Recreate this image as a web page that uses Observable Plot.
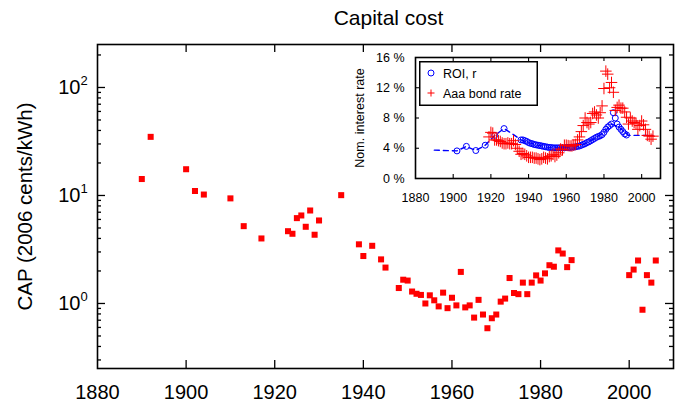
<!DOCTYPE html>
<html>
<head>
<meta charset="utf-8">
<script src="https://cdn.jsdelivr.net/npm/d3@7"></script>
<script src="https://cdn.jsdelivr.net/npm/@observablehq/plot@0.6"></script>
<style>
  html, body { margin: 0; padding: 0; background: #fff; }
  #wrap { position: relative; width: 681px; height: 409px; overflow: hidden; background: #fff; }
  #main, #inset, #legend { position: absolute; }
  #main { left: 0; top: 0; }
  #inset { left: 330px; top: 48px; }
  #legend { left: 419px; top: 61px; }
</style>
</head>
<body>
<div id="wrap">
  <div id="main"></div>
  <div id="inset"></div>
  <svg id="legend" width="119" height="45" style="font-family:'Liberation Sans', Arial, sans-serif">
    <rect x="0.75" y="0.75" width="117.5" height="43.5" fill="#fff" stroke="#000" stroke-width="1.5"></rect>
    <circle cx="12" cy="12" r="3" fill="none" stroke="#0000ff" stroke-width="1"></circle>
    <text x="24" y="16.5" font-size="12.5" fill="#000">ROI, r</text>
    <path d="M8.5,32H15.5M12,28.5V35.5" stroke="#ff0000" stroke-width="1"></path>
    <text x="24" y="36.5" font-size="12.5" fill="#000">Aaa bond rate</text>
  </svg>
</div>
<script>
const FONT = "'Liberation Sans', Arial, Helvetica, sans-serif";

// ---------- main chart data: capital cost (2006 cents/kWh) ----------
const capYears = [1890,1892,1900,1902,1904,1910,1913,1917,
  1923,1924,1925,1926,1927,1928,1929,1930,1935,
  1939,1940,1942,1944,1945,
  1948,1949,1950,1951,1952,1953,1954,1955,1956,1957,
  1958,1959,1960,1961,1962,1963,1964,1965,1966,1967,
  1968,1969,1970,1971,1972,1973,1974,1975,1976,1977,
  1978,1979,1980,1981,1982,1983,1984,1985,1986,1987,
  2000,2001,2002,2003,2004,2005,2006];
const capValues = [14.2,34.9,17.5,11.0,10.2,9.4,5.2,4.0,
  4.67,4.42,6.17,6.53,5.13,7.26,4.33,5.87,10.07,
  3.53,2.75,3.42,2.56,2.15,
  1.39,1.66,1.63,1.29,1.23,1.20,1.00,1.19,1.07,0.94,
  1.26,0.905,1.13,0.96,1.96,0.92,0.96,0.74,1.08,0.79,
  0.59,0.73,0.79,1.04,1.11,1.72,1.25,1.22,1.56,1.22,
  1.56,1.82,1.63,1.90,2.26,2.19,3.10,2.90,2.17,2.52,
  1.83,2.06,2.50,0.875,1.83,1.56,2.50];

const mainXTickLabels = [1880,1900,1920,1940,1960,1980,2000];
const mainXTicks = [1900,1920,1940,1960,1980,2000];
const mainYMajor = [1,10,100];
const mainYExponents = ["0","1","2"];
const mainYMinor = [0.3,0.4,0.5,0.6,0.7,0.8,0.9,2,3,4,5,6,7,8,9,20,30,40,50,60,70,80,90,200];

// ---------- inset data: nominal interest rates (%) ----------
const roiYears = [1902,1907,1912,1917,1922,1927,
  1936,1937,1938,1939,1940,1941,1942,1943,1944,1945,1946,1947,1948,1949,
  1950,1951,1952,1953,1954,1955,1956,1957,1958,1959,
  1960,1961,1962,1963,1964,1965,1966,1967,1968,1969,
  1970,1971,1972,1973,1974,1975,1976,1977,1978,1979,
  1980,1981,1982,1983,1984,1985,1986,1987,1988,1989,1990,1991,1992];
const roiValues = [3.65,4.25,3.7,4.4,5.7,6.6,
  5.1,5.1,5.0,4.9,4.75,4.65,4.6,4.5,4.45,4.4,4.35,4.3,4.25,4.2,
  4.15,4.1,4.1,4.05,4.05,4.05,4.05,4.05,4.05,4.05,
  4.1,4.1,4.1,4.15,4.15,4.2,4.25,4.3,4.4,4.5,
  4.6,4.75,4.85,5.0,5.15,5.3,5.45,5.55,5.65,5.8,
  6.1,6.5,6.8,7.0,7.2,8.7,8.0,7.2,6.8,6.5,6.2,5.9,5.75];

const rLineYears = [1890,1902,1907,1912,1917,1922,1927,1932,1936,1940,1945,1950,1955,1960,1965,1970,1975,1980,1984,1988,1993,2006];
const rLineValues = [3.75,3.65,4.25,3.7,4.4,5.7,6.6,5.8,5.1,4.75,4.4,4.15,4.05,4.1,4.2,4.6,5.3,6.1,7.2,6.8,5.7,5.7];

const aaaYears = d3.range(1919, 2007);
const aaaValues = [5.5,6.1,6.0,5.1,5.1,5.0,4.9,4.7,4.6,4.6,
  4.7,4.6,4.6,5.0,4.5,4.0,3.6,3.2,3.3,3.2,
  3.0,2.8,2.8,2.8,2.7,2.7,2.6,2.5,2.6,2.8,
  2.7,2.6,2.9,3.0,3.2,2.9,3.1,3.4,3.9,3.8,
  4.4,4.4,4.35,4.3,4.3,4.4,4.5,5.1,5.5,6.2,
  7.0,8.0,7.4,7.2,7.4,8.6,8.8,8.4,8.0,8.7,
  9.6,11.9,14.2,13.8,12.0,12.7,11.4,9.0,9.4,9.7,
  9.3,9.3,8.8,8.1,7.2,8.0,7.6,7.4,7.3,6.5,
  7.0,7.6,7.1,6.5,5.7,5.6,5.2,5.6];

const insetXTickLabels = [1880,1900,1920,1940,1960,1980,2000];
const insetXTicks = [1900,1920,1940,1960,1980,2000];
const insetYTickLabels = [0,4,8,12,16];
const insetYTicks = [4,8,12];

// ---------- build tables ----------
const capData = capYears.map((year, i) => ({year, cap: capValues[i]}));
const roiData = roiYears.map((year, i) => ({year, rate: roiValues[i]}));
const rLineData = rLineYears.map((year, i) => ({year, rate: rLineValues[i]}));
const aaaData = aaaYears.map((year, i) => ({year, rate: aaaValues[i]}));

// ---------- main chart ----------
const W = 681, H = 409;
const mL = 97, mR = 8, mT = 44, mB = 41;
const pw = W - mL - mR, ph = H - mT - mB;

const main = Plot.plot({
  width: W, height: H,
  marginLeft: mL, marginRight: mR, marginTop: mT, marginBottom: mB,
  style: {fontFamily: FONT, background: "white", color: "black", overflow: "visible"},
  x: {domain: [1880, 2010], axis: null},
  y: {type: "log", domain: [0.25, 250], axis: null},
  marks: [
    Plot.tickY(mainYMajor, {y: d => d, insetRight: pw - 8, stroke: "black", strokeWidth: 1.3}),
    Plot.tickY(mainYMinor, {y: d => d, insetRight: pw - 4, stroke: "black", strokeWidth: 1.3}),
    Plot.tickY(mainYMajor, {y: d => d, insetLeft: pw - 8, stroke: "black", strokeWidth: 1.3}),
    Plot.tickY(mainYMinor, {y: d => d, insetLeft: pw - 4, stroke: "black", strokeWidth: 1.3}),
    Plot.tickX(mainXTicks, {x: d => d, insetTop: ph - 8, stroke: "black", strokeWidth: 1.3}),
    Plot.tickX(mainXTicks, {x: d => d, insetBottom: ph - 8, stroke: "black", strokeWidth: 1.3}),
    Plot.frame({stroke: "black", strokeWidth: 1.6}),
    Plot.text(mainXTickLabels, {x: d => d, text: d => String(d), frameAnchor: "bottom", dy: 24, textAnchor: "middle", lineAnchor: "middle", fontSize: 20, fill: "black"}),
    Plot.text(mainYMajor, {y: d => d, text: () => "10", frameAnchor: "left", dx: -17, textAnchor: "end", lineAnchor: "middle", fontSize: 20, fill: "black"}),
    Plot.text(mainYMajor, {y: d => d, text: (d, i) => mainYExponents[i], frameAnchor: "left", dx: -17, dy: -7, textAnchor: "start", lineAnchor: "middle", fontSize: 13, fill: "black"}),
    Plot.text(["CAP (2006 cents/kWh)"], {frameAnchor: "left", dx: -72, rotate: -90, textAnchor: "middle", lineAnchor: "middle", fontSize: 20.5, fill: "black"}),
    Plot.text(["Capital cost"], {frameAnchor: "top", dx: 3, dy: -26, textAnchor: "middle", lineAnchor: "middle", fontSize: 21, fill: "black"}),
    Plot.dot(capData, {x: "year", y: "cap", symbol: "square", r: 3.4, fill: "#ff0000", stroke: "none"})
  ]
});
document.getElementById("main").append(main);

// ---------- inset chart ----------
const iW = 340, iH = 160, iL = 85, iR = 10, iT = 9, iB = 30;
const ipw = iW - iL - iR, iph = iH - iT - iB;

const inset = Plot.plot({
  width: iW, height: iH,
  marginLeft: iL, marginRight: iR, marginTop: iT, marginBottom: iB,
  style: {fontFamily: FONT, background: "transparent", color: "black", overflow: "visible"},
  x: {domain: [1880, 2010], axis: null},
  y: {domain: [0, 16], axis: null},
  marks: [
    Plot.tickY(insetYTicks, {y: d => d, insetRight: ipw - 4, stroke: "black", strokeWidth: 1.1}),
    Plot.tickY(insetYTicks, {y: d => d, insetLeft: ipw - 4, stroke: "black", strokeWidth: 1.1}),
    Plot.tickX(insetXTicks, {x: d => d, insetTop: iph - 4, stroke: "black", strokeWidth: 1.1}),
    Plot.tickX(insetXTicks, {x: d => d, insetBottom: iph - 4, stroke: "black", strokeWidth: 1.1}),
    Plot.frame({stroke: "black", strokeWidth: 1.6}),
    Plot.text(insetXTickLabels, {x: d => d, text: d => String(d), frameAnchor: "bottom", dy: 19, textAnchor: "middle", lineAnchor: "middle", fontSize: 12.5, fill: "black"}),
    Plot.text(insetYTickLabels, {y: d => d, text: d => d + " %", frameAnchor: "left", dx: -11, textAnchor: "end", lineAnchor: "middle", fontSize: 12.5, fill: "black"}),
    Plot.text(["Nom. interest rate"], {frameAnchor: "left", dx: -56, rotate: -90, textAnchor: "middle", lineAnchor: "middle", fontSize: 12.5, fill: "black"}),
    Plot.line(rLineData, {x: "year", y: "rate", stroke: "#0000ff", strokeWidth: 1.4, strokeDasharray: "5,4", curve: "linear"}),
    Plot.dot(roiData, {x: "year", y: "rate", r: 3, stroke: "#0000ff", strokeWidth: 1, fill: "none"}),
    Plot.dot(aaaData, {x: "year", y: "rate", symbol: "plus", r: 3.8, stroke: "#ff0000", strokeWidth: 1})
  ]
});
document.getElementById("inset").append(inset);
</script>
</body>
</html>
